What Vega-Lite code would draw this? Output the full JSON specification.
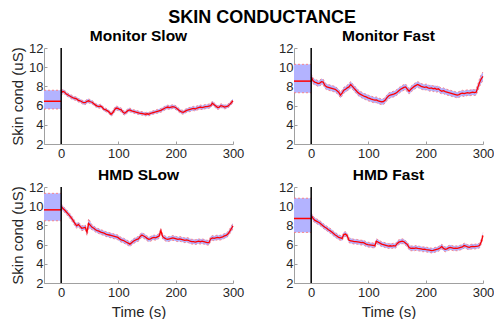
{
  "$schema": "https://vega.github.io/schema/vega-lite/v6.json",
  "background": "white",
  "padding": {"left": 10, "top": 8, "right": 0, "bottom": 0},
  "title": {"text": "SKIN CONDUCTANCE", "fontSize": 18, "anchor": "middle", "dx": 10, "offset": 2, "frame": "bounds"},
  "datasets": {
    "base": [
      {"p": "Monitor Slow", "m": 6.45, "lo": 5.65, "hi": 7.6},
      {"p": "Monitor Fast", "m": 8.55, "lo": 7.34, "hi": 10.3},
      {"p": "HMD SLow", "m": 9.62, "lo": 8.48, "hi": 11.34},
      {"p": "HMD Fast", "m": 8.72, "lo": 7.27, "hi": 10.83}
    ],
    "ms": [
      {"t":0,"m":7.3,"e":0.25},{"t":3,"m":7.5,"e":0.2},{"t":6,"m":7.4,"e":0.2},{"t":9,"m":7.2,"e":0.2},{"t":12,"m":7.1,"e":0.18},{"t":15,"m":7.0,"e":0.18},{"t":18,"m":6.9,"e":0.2},{"t":21,"m":6.8,"e":0.18},{"t":24,"m":6.75,"e":0.18},{"t":27,"m":6.7,"e":0.2},
      {"t":30,"m":6.55,"e":0.18},{"t":33,"m":6.5,"e":0.18},{"t":36,"m":6.4,"e":0.18},{"t":39,"m":6.3,"e":0.2},{"t":42,"m":6.3,"e":0.2},{"t":45,"m":6.45,"e":0.22},{"t":48,"m":6.5,"e":0.2},{"t":51,"m":6.4,"e":0.2},{"t":54,"m":6.35,"e":0.18},{"t":57,"m":6.2,"e":0.18},
      {"t":60,"m":6.05,"e":0.18},{"t":63,"m":5.95,"e":0.18},{"t":66,"m":5.9,"e":0.18},{"t":69,"m":5.95,"e":0.2},{"t":72,"m":5.8,"e":0.18},{"t":75,"m":5.6,"e":0.18},{"t":78,"m":5.55,"e":0.18},{"t":81,"m":5.45,"e":0.18},{"t":84,"m":5.3,"e":0.18},{"t":87,"m":5.1,"e":0.2},
      {"t":90,"m":5.25,"e":0.22},{"t":93,"m":5.55,"e":0.22},{"t":96,"m":5.75,"e":0.22},{"t":99,"m":5.7,"e":0.2},{"t":102,"m":5.6,"e":0.2},{"t":105,"m":5.55,"e":0.2},{"t":108,"m":5.3,"e":0.2},{"t":111,"m":5.2,"e":0.2},{"t":114,"m":5.35,"e":0.2},{"t":117,"m":5.5,"e":0.2},
      {"t":120,"m":5.55,"e":0.2},{"t":123,"m":5.45,"e":0.18},{"t":126,"m":5.4,"e":0.18},{"t":129,"m":5.35,"e":0.18},{"t":132,"m":5.3,"e":0.18},{"t":135,"m":5.25,"e":0.18},{"t":138,"m":5.2,"e":0.18},{"t":141,"m":5.2,"e":0.18},{"t":144,"m":5.15,"e":0.18},{"t":147,"m":5.1,"e":0.18},
      {"t":150,"m":5.15,"e":0.18},{"t":153,"m":5.1,"e":0.18},{"t":156,"m":5.2,"e":0.18},{"t":159,"m":5.25,"e":0.18},{"t":162,"m":5.3,"e":0.18},{"t":165,"m":5.35,"e":0.18},{"t":168,"m":5.4,"e":0.2},{"t":171,"m":5.45,"e":0.2},{"t":174,"m":5.5,"e":0.2},{"t":177,"m":5.6,"e":0.2},
      {"t":180,"m":5.7,"e":0.2},{"t":183,"m":5.8,"e":0.2},{"t":186,"m":5.85,"e":0.2},{"t":189,"m":5.8,"e":0.2},{"t":192,"m":5.85,"e":0.2},{"t":195,"m":5.9,"e":0.2},{"t":198,"m":5.85,"e":0.2},{"t":201,"m":5.75,"e":0.2},{"t":204,"m":5.6,"e":0.2},{"t":207,"m":5.45,"e":0.2},
      {"t":210,"m":5.35,"e":0.2},{"t":213,"m":5.3,"e":0.2},{"t":216,"m":5.4,"e":0.2},{"t":219,"m":5.5,"e":0.2},{"t":222,"m":5.55,"e":0.22},{"t":225,"m":5.6,"e":0.22},{"t":228,"m":5.65,"e":0.22},{"t":231,"m":5.7,"e":0.22},{"t":234,"m":5.65,"e":0.22},{"t":237,"m":5.75,"e":0.22},
      {"t":240,"m":5.8,"e":0.22},{"t":243,"m":5.85,"e":0.22},{"t":246,"m":5.8,"e":0.22},{"t":249,"m":5.85,"e":0.22},{"t":252,"m":5.9,"e":0.22},{"t":255,"m":5.9,"e":0.22},{"t":258,"m":5.95,"e":0.22},{"t":261,"m":6.0,"e":0.22},{"t":264,"m":6.25,"e":0.22},{"t":267,"m":6.1,"e":0.2},
      {"t":270,"m":5.95,"e":0.2},{"t":273,"m":5.8,"e":0.2},{"t":276,"m":5.85,"e":0.2},{"t":279,"m":6.0,"e":0.2},{"t":282,"m":5.95,"e":0.2},{"t":285,"m":5.85,"e":0.2},{"t":288,"m":5.9,"e":0.2},{"t":291,"m":5.95,"e":0.2},{"t":294,"m":6.1,"e":0.2},{"t":297,"m":6.3,"e":0.2},{"t":300,"m":6.5,"e":0.22}
    ],
    "mf": [
      {"t":0,"m":9.0,"e":0.3},{"t":3,"m":8.6,"e":0.3},{"t":6,"m":8.45,"e":0.3},{"t":9,"m":8.4,"e":0.3},{"t":12,"m":8.3,"e":0.3},{"t":15,"m":8.35,"e":0.3},{"t":18,"m":8.5,"e":0.3},{"t":21,"m":8.45,"e":0.3},{"t":24,"m":8.1,"e":0.3},{"t":27,"m":7.95,"e":0.3},
      {"t":30,"m":7.9,"e":0.3},{"t":33,"m":7.85,"e":0.3},{"t":36,"m":7.8,"e":0.3},{"t":39,"m":7.75,"e":0.3},{"t":42,"m":7.7,"e":0.3},{"t":45,"m":7.55,"e":0.3},{"t":48,"m":7.4,"e":0.3},{"t":51,"m":7.1,"e":0.3},{"t":54,"m":7.3,"e":0.3},{"t":57,"m":7.6,"e":0.3},
      {"t":60,"m":7.7,"e":0.3},{"t":63,"m":7.85,"e":0.3},{"t":66,"m":7.95,"e":0.32},{"t":69,"m":8.2,"e":0.32},{"t":72,"m":8.0,"e":0.3},{"t":75,"m":7.8,"e":0.3},{"t":78,"m":7.6,"e":0.3},{"t":81,"m":7.4,"e":0.3},{"t":84,"m":7.25,"e":0.3},{"t":87,"m":7.15,"e":0.3},
      {"t":90,"m":7.05,"e":0.3},{"t":93,"m":6.95,"e":0.3},{"t":96,"m":6.9,"e":0.3},{"t":99,"m":6.8,"e":0.3},{"t":102,"m":6.75,"e":0.3},{"t":105,"m":6.68,"e":0.3},{"t":108,"m":6.62,"e":0.3},{"t":111,"m":6.58,"e":0.3},{"t":114,"m":6.6,"e":0.3},{"t":117,"m":6.5,"e":0.3},
      {"t":120,"m":6.45,"e":0.3},{"t":123,"m":6.4,"e":0.3},{"t":126,"m":6.42,"e":0.3},{"t":129,"m":6.55,"e":0.3},{"t":132,"m":6.8,"e":0.3},{"t":135,"m":7.0,"e":0.3},{"t":138,"m":7.1,"e":0.3},{"t":141,"m":7.15,"e":0.3},{"t":144,"m":7.2,"e":0.3},{"t":147,"m":7.27,"e":0.3},
      {"t":150,"m":7.4,"e":0.3},{"t":153,"m":7.55,"e":0.3},{"t":156,"m":7.7,"e":0.3},{"t":159,"m":7.8,"e":0.3},{"t":162,"m":7.9,"e":0.3},{"t":165,"m":7.95,"e":0.3},{"t":168,"m":7.7,"e":0.3},{"t":171,"m":7.5,"e":0.3},{"t":174,"m":7.7,"e":0.3},{"t":177,"m":7.85,"e":0.3},
      {"t":180,"m":8.0,"e":0.3},{"t":183,"m":8.1,"e":0.3},{"t":186,"m":8.2,"e":0.3},{"t":189,"m":8.1,"e":0.3},{"t":192,"m":8.0,"e":0.3},{"t":195,"m":7.95,"e":0.3},{"t":198,"m":7.9,"e":0.3},{"t":201,"m":7.95,"e":0.3},{"t":204,"m":7.85,"e":0.3},{"t":207,"m":7.8,"e":0.3},
      {"t":210,"m":7.85,"e":0.3},{"t":213,"m":7.75,"e":0.3},{"t":216,"m":7.8,"e":0.3},{"t":219,"m":7.7,"e":0.3},{"t":222,"m":7.75,"e":0.3},{"t":225,"m":7.6,"e":0.3},{"t":228,"m":7.5,"e":0.3},{"t":231,"m":7.55,"e":0.3},{"t":234,"m":7.45,"e":0.3},{"t":237,"m":7.4,"e":0.3},
      {"t":240,"m":7.35,"e":0.3},{"t":243,"m":7.3,"e":0.3},{"t":246,"m":7.25,"e":0.3},{"t":249,"m":7.2,"e":0.3},{"t":252,"m":7.15,"e":0.3},{"t":255,"m":7.1,"e":0.3},{"t":258,"m":7.15,"e":0.3},{"t":261,"m":7.25,"e":0.3},{"t":264,"m":7.3,"e":0.3},{"t":267,"m":7.25,"e":0.3},
      {"t":270,"m":7.3,"e":0.3},{"t":273,"m":7.35,"e":0.3},{"t":276,"m":7.3,"e":0.3},{"t":279,"m":7.35,"e":0.3},{"t":282,"m":7.4,"e":0.3},{"t":285,"m":7.35,"e":0.3},{"t":288,"m":7.4,"e":0.32},{"t":291,"m":7.9,"e":0.35},{"t":294,"m":8.4,"e":0.4},{"t":297,"m":8.8,"e":0.45},{"t":300,"m":9.05,"e":0.45}
    ],
    "hs": [
      {"t":0,"m":10.0,"e":0.25},{"t":3,"m":9.75,"e":0.25},{"t":6,"m":9.6,"e":0.25},{"t":9,"m":9.4,"e":0.25},{"t":12,"m":9.2,"e":0.25},{"t":15,"m":9.0,"e":0.25},{"t":18,"m":8.75,"e":0.25},{"t":21,"m":8.5,"e":0.25},{"t":24,"m":8.2,"e":0.25},{"t":27,"m":7.95,"e":0.25},
      {"t":30,"m":8.1,"e":0.25},{"t":33,"m":7.9,"e":0.25},{"t":36,"m":7.7,"e":0.25},{"t":39,"m":7.75,"e":0.25},{"t":42,"m":7.8,"e":0.25},{"t":45,"m":7.3,"e":0.35},{"t":48,"m":8.2,"e":0.5},{"t":51,"m":8.0,"e":0.35},{"t":54,"m":7.8,"e":0.25},{"t":57,"m":7.7,"e":0.25},
      {"t":60,"m":7.55,"e":0.25},{"t":63,"m":7.45,"e":0.25},{"t":66,"m":7.4,"e":0.25},{"t":69,"m":7.3,"e":0.25},{"t":72,"m":7.25,"e":0.25},{"t":75,"m":7.2,"e":0.25},{"t":78,"m":7.1,"e":0.25},{"t":81,"m":7.05,"e":0.25},{"t":84,"m":7.0,"e":0.25},{"t":87,"m":6.95,"e":0.25},
      {"t":90,"m":6.9,"e":0.25},{"t":93,"m":6.85,"e":0.25},{"t":96,"m":6.8,"e":0.25},{"t":99,"m":6.75,"e":0.25},{"t":102,"m":6.6,"e":0.25},{"t":105,"m":6.5,"e":0.25},{"t":108,"m":6.45,"e":0.25},{"t":111,"m":6.35,"e":0.25},{"t":114,"m":6.25,"e":0.25},{"t":117,"m":6.15,"e":0.25},
      {"t":120,"m":6.05,"e":0.25},{"t":123,"m":6.2,"e":0.25},{"t":126,"m":6.35,"e":0.25},{"t":129,"m":6.45,"e":0.25},{"t":132,"m":6.55,"e":0.25},{"t":135,"m":6.6,"e":0.25},{"t":138,"m":6.85,"e":0.25},{"t":141,"m":7.0,"e":0.25},{"t":144,"m":6.9,"e":0.25},{"t":147,"m":6.8,"e":0.25},
      {"t":150,"m":6.65,"e":0.25},{"t":153,"m":6.55,"e":0.25},{"t":156,"m":6.6,"e":0.25},{"t":159,"m":6.7,"e":0.25},{"t":162,"m":6.75,"e":0.25},{"t":165,"m":6.7,"e":0.25},{"t":168,"m":6.8,"e":0.25},{"t":171,"m":6.9,"e":0.25},{"t":174,"m":7.45,"e":0.25},{"t":177,"m":6.85,"e":0.25},
      {"t":180,"m":6.7,"e":0.25},{"t":183,"m":6.6,"e":0.25},{"t":186,"m":6.55,"e":0.25},{"t":189,"m":6.6,"e":0.25},{"t":192,"m":6.65,"e":0.25},{"t":195,"m":6.7,"e":0.25},{"t":198,"m":6.65,"e":0.25},{"t":201,"m":6.6,"e":0.25},{"t":204,"m":6.55,"e":0.25},{"t":207,"m":6.6,"e":0.25},
      {"t":210,"m":6.55,"e":0.25},{"t":213,"m":6.5,"e":0.25},{"t":216,"m":6.45,"e":0.25},{"t":219,"m":6.5,"e":0.25},{"t":222,"m":6.45,"e":0.25},{"t":225,"m":6.35,"e":0.25},{"t":228,"m":6.3,"e":0.25},{"t":231,"m":6.3,"e":0.25},{"t":234,"m":6.25,"e":0.25},{"t":237,"m":6.3,"e":0.25},
      {"t":240,"m":6.35,"e":0.25},{"t":243,"m":6.3,"e":0.25},{"t":246,"m":6.35,"e":0.25},{"t":249,"m":6.3,"e":0.25},{"t":252,"m":6.25,"e":0.25},{"t":255,"m":6.2,"e":0.25},{"t":258,"m":6.2,"e":0.25},{"t":261,"m":6.6,"e":0.25},{"t":264,"m":6.7,"e":0.25},{"t":267,"m":6.65,"e":0.25},
      {"t":270,"m":6.7,"e":0.25},{"t":273,"m":6.75,"e":0.25},{"t":276,"m":6.7,"e":0.25},{"t":279,"m":6.75,"e":0.25},{"t":282,"m":6.8,"e":0.25},{"t":285,"m":6.9,"e":0.25},{"t":288,"m":6.95,"e":0.25},{"t":291,"m":7.1,"e":0.25},{"t":294,"m":7.35,"e":0.25},{"t":297,"m":7.65,"e":0.28},{"t":300,"m":7.95,"e":0.3}
    ],
    "hf": [
      {"t":0,"m":9.05,"e":0.25},{"t":3,"m":8.75,"e":0.25},{"t":6,"m":8.55,"e":0.25},{"t":9,"m":8.45,"e":0.25},{"t":12,"m":8.35,"e":0.25},{"t":15,"m":8.25,"e":0.25},{"t":18,"m":8.1,"e":0.25},{"t":21,"m":7.95,"e":0.25},{"t":24,"m":7.8,"e":0.25},{"t":27,"m":7.7,"e":0.25},
      {"t":30,"m":7.55,"e":0.25},{"t":33,"m":7.45,"e":0.25},{"t":36,"m":7.3,"e":0.25},{"t":39,"m":7.15,"e":0.25},{"t":42,"m":7.0,"e":0.25},{"t":45,"m":6.9,"e":0.25},{"t":48,"m":6.75,"e":0.25},{"t":51,"m":6.7,"e":0.25},{"t":54,"m":6.65,"e":0.25},{"t":57,"m":7.05,"e":0.25},
      {"t":60,"m":7.1,"e":0.25},{"t":63,"m":6.9,"e":0.25},{"t":66,"m":6.45,"e":0.25},{"t":69,"m":6.4,"e":0.25},{"t":72,"m":6.35,"e":0.25},{"t":75,"m":6.3,"e":0.25},{"t":78,"m":6.3,"e":0.25},{"t":81,"m":6.28,"e":0.25},{"t":84,"m":6.25,"e":0.25},{"t":87,"m":6.2,"e":0.25},
      {"t":90,"m":6.22,"e":0.25},{"t":93,"m":6.15,"e":0.25},{"t":96,"m":6.05,"e":0.25},{"t":99,"m":6.0,"e":0.25},{"t":102,"m":5.98,"e":0.25},{"t":105,"m":5.95,"e":0.25},{"t":108,"m":5.92,"e":0.25},{"t":111,"m":5.88,"e":0.25},{"t":114,"m":6.35,"e":0.25},{"t":117,"m":6.25,"e":0.25},
      {"t":120,"m":6.15,"e":0.25},{"t":123,"m":6.05,"e":0.25},{"t":126,"m":6.0,"e":0.25},{"t":129,"m":5.95,"e":0.25},{"t":132,"m":5.9,"e":0.25},{"t":135,"m":5.85,"e":0.25},{"t":138,"m":5.88,"e":0.25},{"t":141,"m":5.85,"e":0.25},{"t":144,"m":5.9,"e":0.25},{"t":147,"m":5.85,"e":0.25},
      {"t":150,"m":6.1,"e":0.25},{"t":153,"m":6.25,"e":0.25},{"t":156,"m":6.3,"e":0.25},{"t":159,"m":6.35,"e":0.25},{"t":162,"m":6.3,"e":0.25},{"t":165,"m":6.15,"e":0.25},{"t":168,"m":6.0,"e":0.25},{"t":171,"m":5.7,"e":0.25},{"t":174,"m":5.6,"e":0.25},{"t":177,"m":5.62,"e":0.25},
      {"t":180,"m":5.6,"e":0.25},{"t":183,"m":5.65,"e":0.25},{"t":186,"m":5.6,"e":0.25},{"t":189,"m":5.58,"e":0.25},{"t":192,"m":5.55,"e":0.25},{"t":195,"m":5.5,"e":0.25},{"t":198,"m":5.52,"e":0.25},{"t":201,"m":5.48,"e":0.25},{"t":204,"m":5.45,"e":0.25},{"t":207,"m":5.42,"e":0.25},
      {"t":210,"m":5.38,"e":0.25},{"t":213,"m":5.4,"e":0.25},{"t":216,"m":5.45,"e":0.25},{"t":219,"m":5.5,"e":0.25},{"t":222,"m":5.55,"e":0.25},{"t":225,"m":5.65,"e":0.25},{"t":228,"m":5.8,"e":0.25},{"t":231,"m":5.6,"e":0.25},{"t":234,"m":5.5,"e":0.25},{"t":237,"m":5.55,"e":0.25},
      {"t":240,"m":5.65,"e":0.25},{"t":243,"m":5.7,"e":0.25},{"t":246,"m":5.65,"e":0.25},{"t":249,"m":5.6,"e":0.25},{"t":252,"m":5.62,"e":0.25},{"t":255,"m":5.6,"e":0.25},{"t":258,"m":5.65,"e":0.25},{"t":261,"m":5.7,"e":0.25},{"t":264,"m":5.75,"e":0.25},{"t":267,"m":5.9,"e":0.25},
      {"t":270,"m":5.85,"e":0.25},{"t":273,"m":5.75,"e":0.25},{"t":276,"m":5.72,"e":0.25},{"t":279,"m":5.78,"e":0.25},{"t":282,"m":5.8,"e":0.25},{"t":285,"m":5.78,"e":0.25},{"t":288,"m":5.82,"e":0.25},{"t":291,"m":5.85,"e":0.25},{"t":294,"m":5.9,"e":0.25},{"t":297,"m":6.3,"e":0.25},{"t":300,"m":6.95,"e":0.28}
    ]
  },
  "spacing": 7,
  "vconcat": [
    {
      "spacing": 61,
      "bounds": "flush",
      "hconcat": [
        {
          "width": 189, "height": 96,
          "title": "Monitor Slow",
          "layer": [
            {
              "data": {"name": "base"},
              "transform": [{"filter": "datum.p === 'Monitor Slow'"}],
              "layer": [
                {"mark": {"type": "rect", "color": "#b3b3ff"}, "encoding": {"x": {"datum": -30, "type": "quantitative", "scale": {"domain": [-30, 300], "nice": false}, "title": null}, "x2": {"datum": 0}, "y": {"field": "lo", "type": "quantitative", "scale": {"domain": [2, 12]}, "title": "Skin cond (uS)"}, "y2": {"field": "hi"}}},
                {"mark": {"type": "rule", "stroke": "#ff7070", "strokeDash": [2, 2], "strokeWidth": 0.8}, "encoding": {"x": {"datum": -30, "type": "quantitative", "title": null}, "x2": {"datum": 0}, "y": {"field": "lo", "type": "quantitative", "title": "Skin cond (uS)"}}},
                {"mark": {"type": "rule", "stroke": "#ff7070", "strokeDash": [2, 2], "strokeWidth": 0.8}, "encoding": {"x": {"datum": -30, "type": "quantitative", "title": null}, "x2": {"datum": 0}, "y": {"field": "hi", "type": "quantitative", "title": "Skin cond (uS)"}}},
                {"mark": {"type": "rule", "stroke": "#ff0000", "strokeWidth": 1.5}, "encoding": {"x": {"datum": -30, "type": "quantitative", "title": null}, "x2": {"datum": 0}, "y": {"field": "m", "type": "quantitative", "title": "Skin cond (uS)"}}}
              ]
            },
            {
              "data": {"name": "ms"},
              "layer": [
                {"mark": {"type": "errorband", "band": {"color": "#b3b3ff", "opacity": 1}, "borders": {"stroke": "#ff7070", "strokeDash": [2, 2], "strokeWidth": 0.8}}, "encoding": {"x": {"field": "t", "type": "quantitative", "title": null}, "y": {"field": "m", "type": "quantitative", "title": "Skin cond (uS)"}, "yError": {"field": "e"}}},
                {"mark": {"type": "line", "stroke": "#ff0000", "strokeWidth": 1.3}, "encoding": {"x": {"field": "t", "type": "quantitative", "title": null}, "y": {"field": "m", "type": "quantitative", "title": "Skin cond (uS)"}}}
              ]
            },
            {
              "data": {"name": "base"},
              "transform": [{"filter": "datum.p === 'Monitor Slow'"}],
              "mark": {"type": "rule", "stroke": "#000000", "strokeWidth": 1.5},
              "encoding": {"x": {"datum": 0, "type": "quantitative", "title": null}}
            }
          ]
        },
        {
          "width": 189, "height": 96,
          "title": "Monitor Fast",
          "layer": [
            {
              "data": {"name": "base"},
              "transform": [{"filter": "datum.p === 'Monitor Fast'"}],
              "layer": [
                {"mark": {"type": "rect", "color": "#b3b3ff"}, "encoding": {"x": {"datum": -30, "type": "quantitative", "scale": {"domain": [-30, 300], "nice": false}, "title": null}, "x2": {"datum": 0}, "y": {"field": "lo", "type": "quantitative", "scale": {"domain": [2, 12]}, "title": null}, "y2": {"field": "hi"}}},
                {"mark": {"type": "rule", "stroke": "#ff7070", "strokeDash": [2, 2], "strokeWidth": 0.8}, "encoding": {"x": {"datum": -30, "type": "quantitative", "title": null}, "x2": {"datum": 0}, "y": {"field": "lo", "type": "quantitative", "title": null}}},
                {"mark": {"type": "rule", "stroke": "#ff7070", "strokeDash": [2, 2], "strokeWidth": 0.8}, "encoding": {"x": {"datum": -30, "type": "quantitative", "title": null}, "x2": {"datum": 0}, "y": {"field": "hi", "type": "quantitative", "title": null}}},
                {"mark": {"type": "rule", "stroke": "#ff0000", "strokeWidth": 1.5}, "encoding": {"x": {"datum": -30, "type": "quantitative", "title": null}, "x2": {"datum": 0}, "y": {"field": "m", "type": "quantitative", "title": null}}}
              ]
            },
            {
              "data": {"name": "mf"},
              "layer": [
                {"mark": {"type": "errorband", "band": {"color": "#b3b3ff", "opacity": 1}, "borders": {"stroke": "#ff7070", "strokeDash": [2, 2], "strokeWidth": 0.8}}, "encoding": {"x": {"field": "t", "type": "quantitative", "title": null}, "y": {"field": "m", "type": "quantitative", "title": null}, "yError": {"field": "e"}}},
                {"mark": {"type": "line", "stroke": "#ff0000", "strokeWidth": 1.3}, "encoding": {"x": {"field": "t", "type": "quantitative", "title": null}, "y": {"field": "m", "type": "quantitative", "title": null}}}
              ]
            },
            {
              "data": {"name": "base"},
              "transform": [{"filter": "datum.p === 'Monitor Fast'"}],
              "mark": {"type": "rule", "stroke": "#000000", "strokeWidth": 1.5},
              "encoding": {"x": {"datum": 0, "type": "quantitative", "title": null}}
            }
          ]
        }
      ]
    },
    {
      "spacing": 61,
      "bounds": "flush",
      "hconcat": [
        {
          "width": 189, "height": 96,
          "title": "HMD SLow",
          "layer": [
            {
              "data": {"name": "base"},
              "transform": [{"filter": "datum.p === 'HMD SLow'"}],
              "layer": [
                {"mark": {"type": "rect", "color": "#b3b3ff"}, "encoding": {"x": {"datum": -30, "type": "quantitative", "scale": {"domain": [-30, 300], "nice": false}, "title": "Time (s)"}, "x2": {"datum": 0}, "y": {"field": "lo", "type": "quantitative", "scale": {"domain": [2, 12]}, "title": "Skin cond (uS)"}, "y2": {"field": "hi"}}},
                {"mark": {"type": "rule", "stroke": "#ff7070", "strokeDash": [2, 2], "strokeWidth": 0.8}, "encoding": {"x": {"datum": -30, "type": "quantitative", "title": "Time (s)"}, "x2": {"datum": 0}, "y": {"field": "lo", "type": "quantitative", "title": "Skin cond (uS)"}}},
                {"mark": {"type": "rule", "stroke": "#ff7070", "strokeDash": [2, 2], "strokeWidth": 0.8}, "encoding": {"x": {"datum": -30, "type": "quantitative", "title": "Time (s)"}, "x2": {"datum": 0}, "y": {"field": "hi", "type": "quantitative", "title": "Skin cond (uS)"}}},
                {"mark": {"type": "rule", "stroke": "#ff0000", "strokeWidth": 1.5}, "encoding": {"x": {"datum": -30, "type": "quantitative", "title": "Time (s)"}, "x2": {"datum": 0}, "y": {"field": "m", "type": "quantitative", "title": "Skin cond (uS)"}}}
              ]
            },
            {
              "data": {"name": "hs"},
              "layer": [
                {"mark": {"type": "errorband", "band": {"color": "#b3b3ff", "opacity": 1}, "borders": {"stroke": "#ff7070", "strokeDash": [2, 2], "strokeWidth": 0.8}}, "encoding": {"x": {"field": "t", "type": "quantitative", "title": "Time (s)"}, "y": {"field": "m", "type": "quantitative", "title": "Skin cond (uS)"}, "yError": {"field": "e"}}},
                {"mark": {"type": "line", "stroke": "#ff0000", "strokeWidth": 1.3}, "encoding": {"x": {"field": "t", "type": "quantitative", "title": "Time (s)"}, "y": {"field": "m", "type": "quantitative", "title": "Skin cond (uS)"}}}
              ]
            },
            {
              "data": {"name": "base"},
              "transform": [{"filter": "datum.p === 'HMD SLow'"}],
              "mark": {"type": "rule", "stroke": "#000000", "strokeWidth": 1.5},
              "encoding": {"x": {"datum": 0, "type": "quantitative", "title": "Time (s)"}}
            }
          ]
        },
        {
          "width": 189, "height": 96,
          "title": "HMD Fast",
          "layer": [
            {
              "data": {"name": "base"},
              "transform": [{"filter": "datum.p === 'HMD Fast'"}],
              "layer": [
                {"mark": {"type": "rect", "color": "#b3b3ff"}, "encoding": {"x": {"datum": -30, "type": "quantitative", "scale": {"domain": [-30, 300], "nice": false}, "title": "Time (s)"}, "x2": {"datum": 0}, "y": {"field": "lo", "type": "quantitative", "scale": {"domain": [2, 12]}, "title": null}, "y2": {"field": "hi"}}},
                {"mark": {"type": "rule", "stroke": "#ff7070", "strokeDash": [2, 2], "strokeWidth": 0.8}, "encoding": {"x": {"datum": -30, "type": "quantitative", "title": "Time (s)"}, "x2": {"datum": 0}, "y": {"field": "lo", "type": "quantitative", "title": null}}},
                {"mark": {"type": "rule", "stroke": "#ff7070", "strokeDash": [2, 2], "strokeWidth": 0.8}, "encoding": {"x": {"datum": -30, "type": "quantitative", "title": "Time (s)"}, "x2": {"datum": 0}, "y": {"field": "hi", "type": "quantitative", "title": null}}},
                {"mark": {"type": "rule", "stroke": "#ff0000", "strokeWidth": 1.5}, "encoding": {"x": {"datum": -30, "type": "quantitative", "title": "Time (s)"}, "x2": {"datum": 0}, "y": {"field": "m", "type": "quantitative", "title": null}}}
              ]
            },
            {
              "data": {"name": "hf"},
              "layer": [
                {"mark": {"type": "errorband", "band": {"color": "#b3b3ff", "opacity": 1}, "borders": {"stroke": "#ff7070", "strokeDash": [2, 2], "strokeWidth": 0.8}}, "encoding": {"x": {"field": "t", "type": "quantitative", "title": "Time (s)"}, "y": {"field": "m", "type": "quantitative", "title": null}, "yError": {"field": "e"}}},
                {"mark": {"type": "line", "stroke": "#ff0000", "strokeWidth": 1.3}, "encoding": {"x": {"field": "t", "type": "quantitative", "title": "Time (s)"}, "y": {"field": "m", "type": "quantitative", "title": null}}}
              ]
            },
            {
              "data": {"name": "base"},
              "transform": [{"filter": "datum.p === 'HMD Fast'"}],
              "mark": {"type": "rule", "stroke": "#000000", "strokeWidth": 1.5},
              "encoding": {"x": {"datum": 0, "type": "quantitative", "title": "Time (s)"}}
            }
          ]
        }
      ]
    }
  ],
  "config": {
    "view": {"stroke": null},
    "font": "Liberation Sans",
    "title": {"font": "Liberation Sans", "fontSize": 15.5, "fontWeight": "bold", "color": "#000000", "offset": -2, "frame": "group"},
    "axis": {
      "grid": false,
      "domainColor": "#a0a0a0",
      "tickColor": "#a0a0a0",
      "tickSize": -3,
      "labelFont": "Liberation Sans",
      "labelFontSize": 13,
      "labelColor": "#262626",
      "labelFlush": false,
      "titleFont": "Liberation Sans",
      "titleFontSize": 15,
      "titleFontWeight": "normal",
      "titleColor": "#262626"
    },
    "axisX": {"tickCount": 4, "labelPadding": 6, "titlePadding": 5},
    "axisY": {"tickCount": 6, "labelPadding": 4, "titlePadding": 3}
  }
}
